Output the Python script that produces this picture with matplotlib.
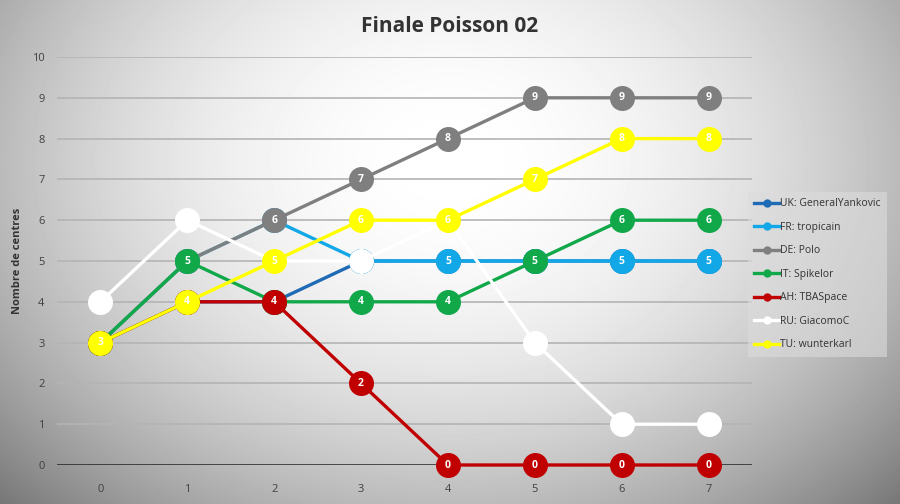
import numpy as np
import matplotlib
matplotlib.use('Agg')
import matplotlib.pyplot as plt
from matplotlib.lines import Line2D

plt.rcParams['font.family'] = ['Open Sans', 'DejaVu Sans']

# data
rounds = [0, 1, 2, 3, 4, 5, 6, 7]
names = ['UK: GeneralYankovic', 'FR: tropicain', 'DE: Polo', 'IT: Spikelor',
         'AH: TBASpace', 'RU: GiacomoC', 'TU: wunterkarl']
uk = [3, 4, 4, 5, 5, 5, 5, 5]
fr = [3, 5, 6, 5, 5, 5, 5, 5]
de = [3, 5, 6, 7, 8, 9, 9, 9]
it = [3, 5, 4, 4, 4, 5, 6, 6]
ah = [3, 4, 4, 2, 0, 0, 0, 0]
ru = [4, 6, 5, 5, 6, 3, 1, 1]
tu = [3, 4, 5, 6, 6, 7, 8, 8]
series = [uk, fr, de, it, ah, ru, tu]
colors = ['#1f6bb5', '#12a8e8', '#7f7f7f', '#11a84a', '#c00000', '#ffffff', '#ffff00']

fig = plt.figure(figsize=(9, 5.04), dpi=100)

# radial background
bg = fig.add_axes([0, 0, 1, 1])
yy, xx = np.mgrid[0:504, 0:900]
r = np.sqrt(((xx - 450) / 520.0) ** 2 + ((yy - 160) / 400.0) ** 2)
shade = 1.0 - 0.36 * np.clip(r, 0, 1.3) ** 2
bg.imshow(shade, cmap='gray', vmin=0, vmax=1, aspect='auto', extent=[0, 1, 0, 1])
bg.set_axis_off()

ax = fig.add_axes([57 / 900, 1 - 465 / 504, (752 - 57) / 900, (465 - 57) / 504])
ax.patch.set_alpha(0)
ax.set_xlim(-0.5, 7.5)
ax.set_ylim(0, 10)
ax.set_yticks(range(0, 11))
ax.set_xticks(rounds)
for y in range(1, 11):
    ax.axhline(y, color='#b4b4b4', lw=1.2, zorder=1)
ax.axhline(0, color='#222222', lw=1.8, zorder=2)
for s in ax.spines.values():
    s.set_visible(False)
ax.tick_params(length=0, labelsize=8, colors='#404040')
ax.tick_params(axis='x', pad=14)
ax.tick_params(axis='y', pad=9)
ax.set_ylabel('Nombre de centres', fontsize=8, fontweight='bold', color='#333333', labelpad=6)

for i, (vals, c) in enumerate(zip(series, colors)):
    z = 10 + i * 3
    ax.plot(rounds, vals, color=c, lw=2.4, marker='o', markersize=18,
            markeredgewidth=0, zorder=z, clip_on=False, solid_capstyle='round')
    for x, v in zip(rounds, vals):
        ax.text(x, v, str(v), ha='center', va='center', color='white',
                fontsize=7.5, fontweight='bold', zorder=z + 1, clip_on=False)

fig.text(450 / 900, 1 - 27 / 504, 'Finale Poisson 02', ha='center', va='center',
         fontsize=15, fontweight='bold', color='#333333')

handles = [Line2D([0], [0], color=c, lw=2.4, marker='o', markersize=5) for c in colors]
leg = fig.legend(handles, names, loc='upper left', bbox_to_anchor=(743 / 900, 1 - 187 / 504),
                 frameon=True, fontsize=7.5, handlelength=2.4, handletextpad=0.1,
                 labelspacing=1.2, borderpad=0.6, fancybox=False)
leg.get_frame().set_facecolor('#dcdcdc')
leg.get_frame().set_alpha(0.6)
leg.get_frame().set_linewidth(0)
for t in leg.get_texts():
    t.set_color('#333333')

fig.savefig('out.png', dpi=100)
